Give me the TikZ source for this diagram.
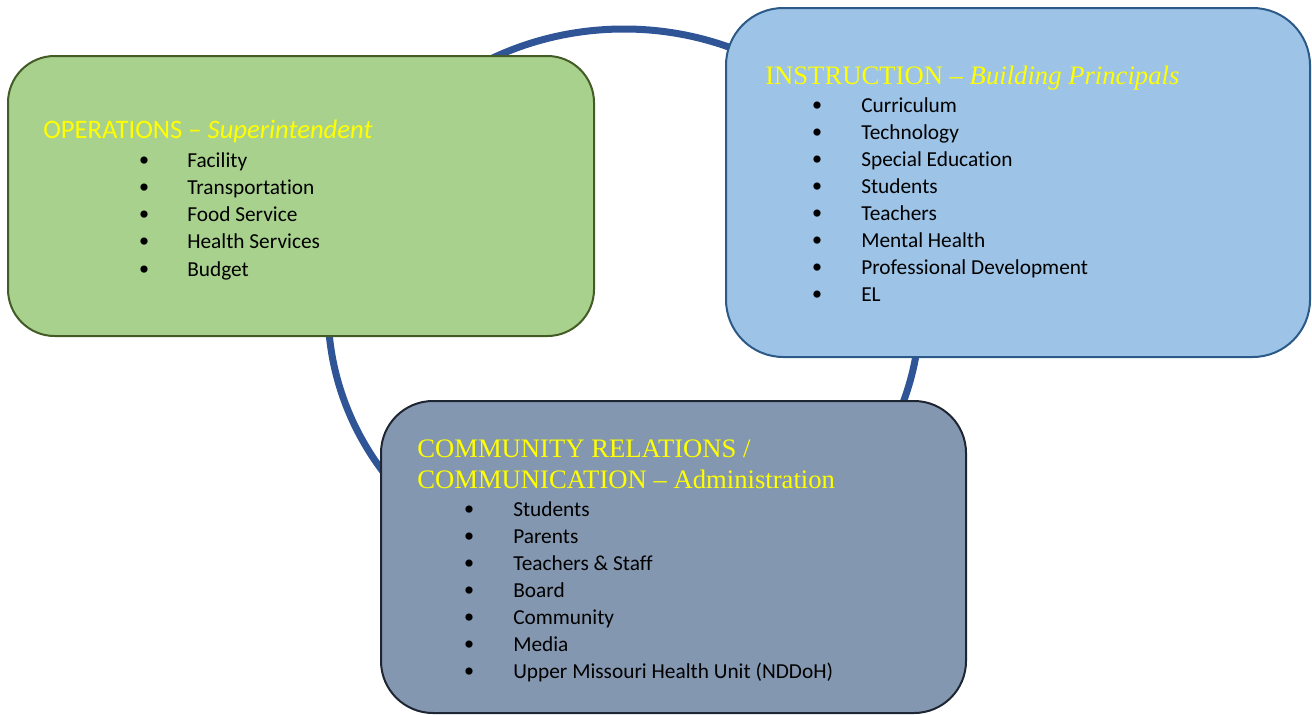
\documentclass[tikz,border=0pt]{standalone}
\usepackage{fontspec}
\setmainfont{Liberation Serif}
\newfontfamily\calfont{Carlito}[Ligatures={NoCommon,NoRare}]
\definecolor{gfill}{HTML}{A9D18E}
\definecolor{gline}{HTML}{435C26}
\definecolor{bfill}{HTML}{9DC3E6}
\definecolor{bline}{HTML}{2B5A88}
\definecolor{cfill}{HTML}{8497B0}
\definecolor{cline}{HTML}{1F2633}
\definecolor{ringc}{HTML}{2F5597}
\definecolor{ttl}{HTML}{FFFF00}
\tikzset{
  ring/.style={draw=ringc, line width=5.25pt},
  box/.style={draw, line width=1.5pt, inner sep=0pt},
  ttlS/.style={anchor=base west, inner sep=0pt, text=ttl, font=\calfont\fontsize{20}{24}\selectfont},
  ttlR/.style={anchor=base west, inner sep=0pt, text=ttl, font=\rmfamily\fontsize{20}{24}\selectfont},
  itm/.style={anchor=base west, inner sep=0pt, text=black, font=\calfont\fontsize{16}{19}\selectfont},
  bul/.style={anchor=base, inner sep=0pt, text=black, font=\rmfamily\fontsize{22.5}{26}\selectfont}
}
\begin{document}
\begin{tikzpicture}[x=0.75pt,y=-0.75pt]
\useasboundingbox (0,0) rectangle (1312,714);
\draw[ring] (624,309) ellipse [x radius=222pt, y radius=210pt];
% boxes
\node[box, fill=gfill, draw=gline, minimum width=439.5pt, minimum height=210pt, rounded corners=35pt] (ops) at (301,196) {};
\node[box, fill=bfill, draw=bline, minimum width=438pt, minimum height=261.75pt, rounded corners=43pt] (ins) at (1018,182.5) {};
\node[box, fill=cfill, draw=cline, minimum width=438.75pt, minimum height=234pt, rounded corners=39pt] (com) at (673.5,557) {};
% operations
\node[ttlS] (opsT) at (43,138) {OPERATIONS – \textit{Superintendent}};
\foreach \t [count=\i] in {Facility, Transportation, Food Service, Health Services, Budget} {
  \node[bul] (opb\i) at (144,{170+27.25*(\i-1)}) {•};
  \node[itm] (op\i) at (187,{167+27.25*(\i-1)}) {\t};
}
% instruction
\node[ttlR] (insT) at (765,84) {INSTRUCTION – \textit{Building Principals}};
\foreach \t [count=\i] in {Curriculum, Technology, Special Education, Students, Teachers, Mental Health, Professional Development, EL} {
  \node[bul] (inb\i) at (817,{115+27.14*(\i-1)}) {•};
  \node[itm] (in\i) at (861,{112+27.14*(\i-1)}) {\t};
}
% community
\node[ttlR] (comT1) at (417,457) {COMMUNITY RELATIONS /};
\node[ttlR] (comT2) at (417,488) {COMMUNICATION – Administration};
\foreach \t [count=\i] in {Students, Parents, Teachers \& Staff, Board, Community, Media, Upper Missouri Health Unit (NDDoH)} {
  \node[bul] (cob\i) at (469,{519+27*(\i-1)}) {•};
  \node[itm] (co\i) at (513,{516+27*(\i-1)}) {\t};
}
\end{tikzpicture}
\end{document}
